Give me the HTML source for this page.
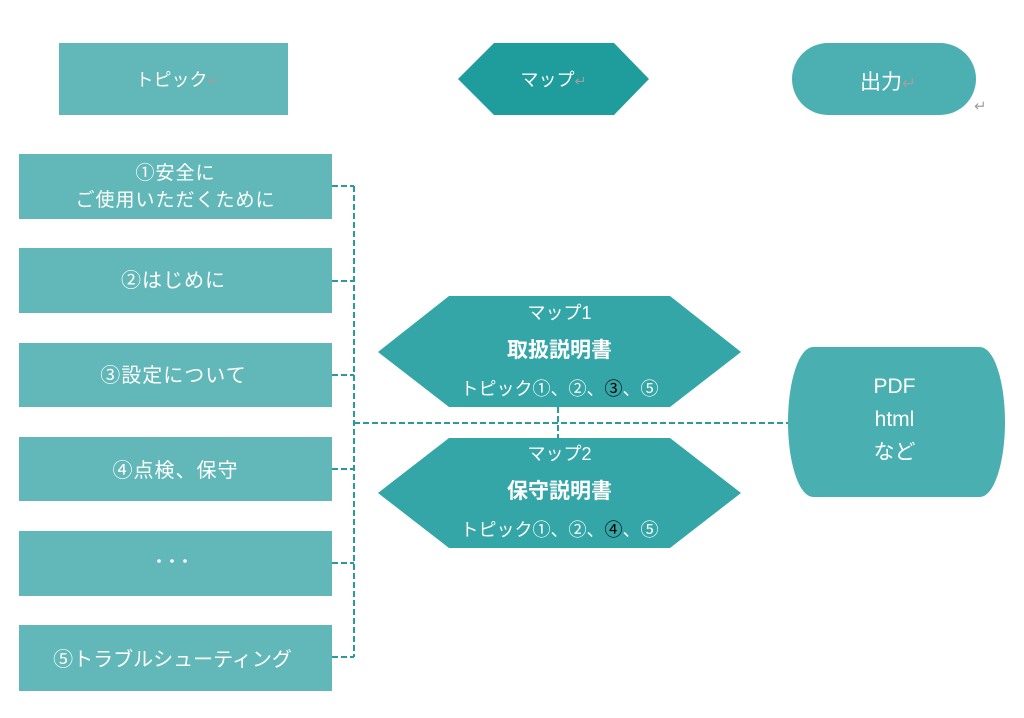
<!DOCTYPE html>
<html><head><meta charset="utf-8">
<style>
html,body{margin:0;padding:0;background:#fff;}
body{width:1024px;height:718px;position:relative;overflow:hidden;font-family:"Liberation Sans","Noto Sans CJK JP",sans-serif;}
.t{position:absolute;display:flex;flex-direction:column;align-items:center;justify-content:center;color:#fff;text-align:center;white-space:nowrap;}
.rt{color:#a0a0a0;font-size:0.8em;}
</style></head>
<body>
<svg width="1024" height="718" style="position:absolute;left:0;top:0">
  <rect x="59" y="43" width="229" height="72" fill="#62b8b9"/>
  <polygon points="458,79 494,43 614,43 649,79 614,115 494,115" fill="#1f9c9c"/>
  <rect x="792" y="43" width="184" height="72" rx="36" ry="36" fill="#4cb0b2"/>
  <rect x="19" y="154" width="313" height="65" fill="#62b8b9"/>
  <rect x="19" y="248" width="313" height="65" fill="#62b8b9"/>
  <rect x="19" y="343" width="313" height="64" fill="#62b8b9"/>
  <rect x="19" y="437" width="313" height="64" fill="#62b8b9"/>
  <rect x="19" y="531" width="313" height="65" fill="#62b8b9"/>
  <rect x="19" y="625" width="313" height="66" fill="#62b8b9"/>
  <polygon points="378,352 449,296 670,296 741,352 670,407 449,407" fill="#34a6a7"/>
  <polygon points="378,493 449,438 670,438 741,493 670,548 449,548" fill="#34a6a7"/>
  <path d="M813,347 L980,347 A25,75 0 0 1 980,497 L813,497 A25,75 0 0 1 813,347 Z" fill="#4aafb1"/>
  <g stroke="#2b9a9c" stroke-width="2" stroke-dasharray="6 3" fill="none">
    <line x1="332" y1="186" x2="354" y2="186"/>
    <line x1="332" y1="281" x2="354" y2="281"/>
    <line x1="332" y1="375" x2="354" y2="375"/>
    <line x1="332" y1="469" x2="354" y2="469"/>
    <line x1="332" y1="563" x2="354" y2="563"/>
    <line x1="332" y1="657" x2="354" y2="657"/>
    <line x1="354" y1="186" x2="354" y2="657"/>
    <line x1="354" y1="423" x2="788" y2="423"/>
    <line x1="558" y1="407" x2="558" y2="438"/>
  </g>
  <g fill="#fff">
    <circle cx="159" cy="561" r="1.8"/>
    <circle cx="172" cy="561" r="1.8"/>
    <circle cx="185" cy="561" r="1.8"/>
  </g>
</svg>

<div class="t" style="left:63px;top:43px;width:229px;height:72px;font-size:18px;">
  <div>トピック<span class="rt">↵</span></div></div>
<div class="t" style="left:458px;top:43px;width:191px;height:72px;font-size:18px;">
  <div>マップ<span class="rt">↵</span></div></div>
<div class="t" style="left:796px;top:45px;width:184px;height:72px;font-size:21px;">
  <div>出力<span class="rt">↵</span></div></div>
<div style="position:absolute;left:974px;top:97px;font-size:15px;color:#a0a0a0;">↵</div>

<div class="t" style="left:19px;top:154px;width:313px;height:65px;font-size:19px;line-height:27px;letter-spacing:1px;">
  <div>①安全に</div><div>ご使用いただくために</div></div>
<div class="t" style="left:17px;top:248px;width:313px;height:60px;font-size:20px;letter-spacing:1px;"><div>②はじめに</div></div>
<div class="t" style="left:17px;top:343px;width:313px;height:60px;font-size:20px;letter-spacing:1px;"><div>③設定について</div></div>
<div class="t" style="left:19px;top:437px;width:313px;height:62px;font-size:20px;letter-spacing:1px;"><div>④点検、保守</div></div>
<div class="t" style="left:16px;top:625px;width:313px;height:64px;font-size:20px;"><div>⑤トラブルシューティング</div></div>

<div class="t" style="left:378px;top:294px;width:363px;height:114px;font-size:18px;line-height:38px;">
  <div>マップ1</div>
  <div style="font-weight:bold;font-size:21px;">取扱説明書</div>
  <div>トピック①、②、<span style="color:#000">③</span>、⑤</div>
</div>
<div class="t" style="left:378px;top:435px;width:363px;height:114px;font-size:18px;line-height:38px;">
  <div>マップ2</div>
  <div style="font-weight:bold;font-size:21px;">保守説明書</div>
  <div>トピック①、②、<span style="color:#000">④</span>、⑤</div>
</div>

<div class="t" style="left:786px;top:344px;width:217px;height:150px;font-size:21px;line-height:33px;">
  <div>PDF</div><div>html</div><div>など</div>
</div>
</body></html>
